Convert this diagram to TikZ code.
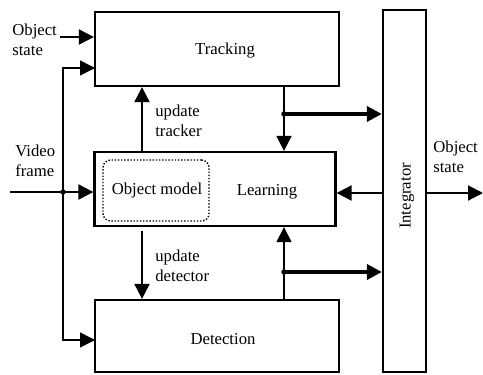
\documentclass[tikz,border=0pt]{standalone}
\usepackage{fontspec}
\setmainfont{Liberation Serif}
\usetikzlibrary{arrows.meta,positioning}
\tikzset{block node/.style={draw, line width=1.3pt, inner sep=0pt}}
\tikzset{model node/.style={draw, densely dotted, line width=0.8pt, rounded corners=1.5mm, inner sep=0pt}}
\tikzset{label text/.style={font=\fontsize{9.5}{11.5}\selectfont, inner sep=0pt}}
\tikzset{flow edge/.style={line width=1.2pt, -{Triangle[length=3mm,width=3mm]}}}
\tikzset{heavy edge/.style={flow edge, line width=2pt}}
\tikzset{light edge/.style={flow edge, line width=0.7pt}}
\tikzset{junction/.style={fill, circle, inner sep=0pt, minimum size=1.1mm}}

\begin{document}
\begin{tikzpicture}[x=0.2mm, y=-0.2mm]
  \useasboundingbox (0,0) rectangle (483,374);

  % blocks
  \node [block node, minimum width=48.8mm, minimum height=14.8mm] (tracking)   at (217,49)    {};
  \node [block node, minimum width=48.2mm, minimum height=14.8mm] (learning)   at (215,189)   {};
  \node [block node, minimum width=48.8mm, minimum height=14.4mm] (detection)  at (217,336)   {};
  \node [block node, minimum width=8.6mm,  minimum height=72.4mm] (integrator) at (404.5,191) {};
  \node [model node, minimum width=21.2mm, minimum height=12.2mm] (model)      at (156,190.5) {};

  \node [label text]             (tracking text)   at (225,51)  {Tracking};
  \node [label text]             (learning text)   at (267,192) {Learning};
  \node [label text]             (detection text)  at (223,339) {Detection};
  \node [label text]             (model text)      at (157,190) {Object model};
  \node [label text, rotate=90]  (integrator text) at (407,196) {Integrator};

  % outer labels
  \node [label text, align=left, anchor=west] (state in text)  at (12,40)  {Object\\state};
  \node [label text, align=left, anchor=west] (video text)     at (15,161) {Video\\frame};
  \node [label text, align=left, anchor=west] (state out text) at (433,157) {Object\\state};
  \node [label text, align=left, anchor=west] (tracker text)   at (155,121) {update\\tracker};
  \node [label text, align=left, anchor=west] (detector text)  at (155,266) {update\\detector};

  % free ends and splits
  \coordinate (state in)    at (60,37);
  \coordinate (video in)    at (10,192);
  \coordinate (video split) at (63,192);
  \coordinate (feed top)    at (95,68);
  \coordinate (feed bottom) at (95,340);
  \coordinate (update x)    at (142,0);
  \coordinate (result x)    at (284,0);
  \coordinate (track split) at (284,114);
  \coordinate (det split)   at (284,272);
  \coordinate (back y)      at (0,193);
  \coordinate (state out)   at (483,193);

  % inputs
  \draw [flow edge]  (state in) -- (state in -| tracking.west);
  \draw [flow edge]  (video in) -- (video in -| learning.west);
  \draw [flow edge, line width=0.9pt] (video split) |- (feed top);
  \draw [flow edge, line width=0.9pt] (video split) |- (feed bottom);
  \node [junction] at (video split) {};

  % updates
  \draw [flow edge]  (learning.north -| update x) -- (tracking.south -| update x);
  \draw [flow edge]  ([yshift=-0.8mm]learning.south -| update x) -- (detection.north -| update x);

  % results
  \draw [flow edge]  (tracking.south -| result x) -- (learning.north -| result x);
  \draw [light edge] (detection.north -| result x) -- (learning.south -| result x);
  \draw [heavy edge] (track split) -- (track split -| integrator.west);
  \draw [heavy edge] (det split) -- (det split -| integrator.west);
  \node [junction] at (track split) {};
  \node [junction] at (det split) {};

  % integrator
  \draw [flow edge]  (integrator.west |- back y) -- (learning.east |- back y);
  \draw [flow edge]  (integrator.east |- back y) -- (state out);
\end{tikzpicture}
\end{document}
